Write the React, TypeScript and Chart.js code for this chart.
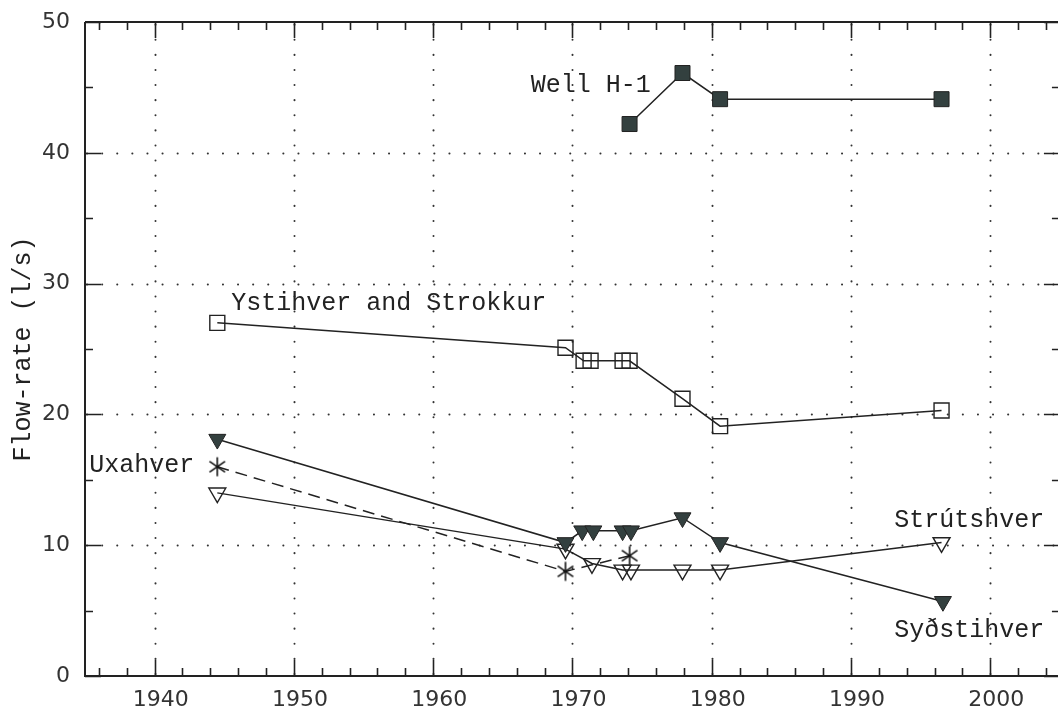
import React, { useEffect, useRef } from 'react';
import { Chart, registerables } from 'chart.js';

Chart.register(...registerables);

// ---- data ----
const wellYears = [1974.1, 1977.9, 1980.6, 1996.5];
const wellFlow = [42.2, 46.1, 44.1, 44.1];

const ystiYears = [1944.5, 1969.5, 1970.8, 1971.3, 1973.6, 1974.1, 1977.9, 1980.6, 1996.5];
const ystiFlow = [27.0, 25.1, 24.1, 24.1, 24.1, 24.1, 21.2, 19.1, 20.3];

const sydYears = [1944.5, 1969.5, 1970.7, 1971.5, 1973.6, 1974.2, 1977.9, 1980.6, 1996.6];
const sydFlow = [18.1, 10.2, 11.1, 11.1, 11.1, 11.1, 12.1, 10.2, 5.7];

const strutYears = [1944.5, 1969.5, 1971.4, 1973.6, 1974.2, 1977.9, 1980.6, 1996.5];
const strutFlow = [14.0, 9.7, 8.6, 8.1, 8.1, 8.1, 8.1, 10.2];

const uxaYears = [1944.5, 1969.5, 1974.1];
const uxaFlow = [16.0, 8.0, 9.2];

const xTickLabels = [1940, 1950, 1960, 1970, 1980, 1990, 2000];
const yTickLabels = [0, 10, 20, 30, 40, 50];
const xMinorStep = 2;
const yMinorStep = 5;

const seriesNames = ['Well H-1', 'Ystihver and Strokkur', 'Syðstihver', 'Strútshver', 'Uxahver'];
const yTitle = 'Flow-rate (l/s)';

// label anchors in data units (left edge, baseline)
const labelAnchors = [
  { text: 'Well H-1', x: 1967.0, y: 44.65 },
  { text: 'Ystihver and Strokkur', x: 1945.5, y: 27.95 },
  { text: 'Uxahver', x: 1935.3, y: 15.6 },
  { text: 'Strútshver', x: 1993.1, y: 11.4 },
  { text: 'Syðstihver', x: 1993.1, y: 3.0 },
];

const X_MIN = 1935;
const X_MAX = 2004.0;
const X_FRAME_RIGHT = 2005;

const INK = '#222222';
const FILL = '#33403f';
const LABEL_FONT = '"Liberation Mono", monospace';

const pts = (xs: number[], ys: number[]) => xs.map((x, i) => ({ x, y: ys[i] }));

function makeAsterisk(): HTMLCanvasElement {
  const c = document.createElement('canvas');
  c.width = 22;
  c.height = 22;
  const g = c.getContext('2d')!;
  g.strokeStyle = '#111';
  g.lineWidth = 1.6;
  const r = 9.5;
  for (const deg of [90, 35, 145]) {
    const a = (deg * Math.PI) / 180;
    g.beginPath();
    g.moveTo(11 - Math.cos(a) * r, 11 - Math.sin(a) * r);
    g.lineTo(11 + Math.cos(a) * r, 11 + Math.sin(a) * r);
    g.stroke();
  }
  return c;
}

const framePlugin = {
  id: 'frame',
  beforeDatasetsDraw(chart: any) {
    const { ctx, chartArea: a, scales } = chart;
    const xs = scales.x;
    const ys = scales.y;
    const xr = xs.getPixelForValue(X_FRAME_RIGHT);
    ctx.save();
    // dotted grid
    ctx.strokeStyle = '#333';
    ctx.lineWidth = 2;
    ctx.lineCap = 'round';
    ctx.setLineDash([0.1, 15]);
    for (const v of xTickLabels) {
      const px = Math.round(xs.getPixelForValue(v)) + 0.5;
      ctx.beginPath();
      ctx.moveTo(px, a.bottom - 2);
      ctx.lineTo(px, a.top);
      ctx.stroke();
    }
    for (const v of yTickLabels) {
      if (v <= 0 || v >= 50) continue;
      const py = Math.round(ys.getPixelForValue(v)) + 0.5;
      ctx.beginPath();
      ctx.moveTo(a.left + 2, py);
      ctx.lineTo(xr, py);
      ctx.stroke();
    }
    ctx.setLineDash([]);
    ctx.lineCap = 'butt';
    // frame
    ctx.strokeStyle = INK;
    ctx.lineWidth = 2;
    ctx.beginPath();
    ctx.moveTo(a.left, a.top);
    ctx.lineTo(a.left, a.bottom);
    ctx.lineTo(xr, a.bottom);
    ctx.moveTo(a.left, a.top);
    ctx.lineTo(xr, a.top);
    ctx.lineTo(xr, a.bottom);
    ctx.stroke();
    // ticks (inward)
    ctx.lineWidth = 1.6;
    ctx.beginPath();
    for (let v = X_MIN + 1; v <= X_FRAME_RIGHT; v += xMinorStep) {
      const major = xTickLabels.includes(v);
      const len = major ? 16 : 8;
      const px = Math.round(xs.getPixelForValue(v)) + 0.5;
      ctx.moveTo(px, a.bottom);
      ctx.lineTo(px, a.bottom - len);
      ctx.moveTo(px, a.top);
      ctx.lineTo(px, a.top + len);
    }
    for (let v = 0; v <= 50; v += yMinorStep) {
      const major = yTickLabels.includes(v);
      const len = major ? 16 : 8;
      const py = Math.round(ys.getPixelForValue(v)) + 0.5;
      ctx.moveTo(a.left, py);
      ctx.lineTo(a.left + len, py);
      ctx.moveTo(xr, py);
      ctx.lineTo(xr - len, py);
    }
    ctx.stroke();
    ctx.restore();
  },
  afterDraw(chart: any) {
    const { ctx, scales } = chart;
    ctx.save();
    ctx.fillStyle = INK;
    ctx.font = `25px ${LABEL_FONT}`;
    ctx.textAlign = 'left';
    ctx.textBaseline = 'alphabetic';
    for (const l of labelAnchors) {
      ctx.fillText(l.text, scales.x.getPixelForValue(l.x), scales.y.getPixelForValue(l.y));
    }
    ctx.restore();
  },
};

export default function App() {
  const ref = useRef<HTMLCanvasElement | null>(null);

  useEffect(() => {
    if (!ref.current) return;
    const asterisk = makeAsterisk();
    const lineBase = { showLine: true, borderColor: INK, borderWidth: 1.5, pointBorderColor: INK };
    const chart = new Chart(ref.current, {
      type: 'scatter',
      data: {
        datasets: [
          {
            ...lineBase,
            label: seriesNames[0],
            data: pts(wellYears, wellFlow),
            pointStyle: 'rect',
            pointRadius: 10.6,
            pointBackgroundColor: FILL,
            pointBorderWidth: 1,
          },
          {
            ...lineBase,
            label: seriesNames[1],
            data: pts(ystiYears, ystiFlow),
            pointStyle: 'rect',
            pointRadius: 10.6,
            pointBackgroundColor: 'rgba(0,0,0,0)',
            pointBorderWidth: 1.4,
          },
          {
            ...lineBase,
            label: seriesNames[2],
            data: pts(sydYears, sydFlow),
            pointStyle: 'triangle',
            pointRotation: 180,
            pointRadius: 9.8,
            pointBackgroundColor: FILL,
            pointBorderWidth: 1,
          },
          {
            ...lineBase,
            label: seriesNames[3],
            data: pts(strutYears, strutFlow),
            pointStyle: 'triangle',
            pointRotation: 180,
            pointRadius: 9.8,
            pointBackgroundColor: 'rgba(0,0,0,0)',
            pointBorderWidth: 1.4,
          },
          {
            ...lineBase,
            label: seriesNames[4],
            data: pts(uxaYears, uxaFlow),
            borderDash: [12, 7],
            pointStyle: asterisk as any,
            pointRadius: 10,
          },
        ],
      },
      options: {
        animation: false,
        responsive: false,
        devicePixelRatio: 1,
        events: [],
        layout: { padding: { top: 22, right: 0, left: 0, bottom: 0 } },
        plugins: { legend: { display: false }, tooltip: { enabled: false } },
        scales: {
          x: {
            type: 'linear',
            min: X_MIN,
            max: X_MAX,
            afterFit: (s: any) => {
              s.height = 30;
              s.paddingLeft = 0;
              s.paddingRight = 0;
            },
            afterBuildTicks: (s: any) => {
              s.ticks = xTickLabels.map((v) => ({ value: v }));
            },
            grid: { display: false },
            border: { display: false },
            ticks: {
              font: { family: '"DejaVu Sans", sans-serif', size: 22, lineHeight: 1 },
              color: '#333',
              padding: 5,
              labelOffset: 6,
              maxRotation: 0,
              autoSkip: false,
              callback: (v: any) => String(v),
            },
          },
          y: {
            type: 'linear',
            min: 0,
            max: 50,
            afterFit: (s: any) => {
              s.width = 85;
              s.paddingTop = 0;
              s.paddingBottom = 0;
            },
            afterBuildTicks: (s: any) => {
              s.ticks = yTickLabels.map((v) => ({ value: v }));
            },
            grid: { display: false },
            border: { display: false },
            ticks: {
              font: { family: '"DejaVu Sans", sans-serif', size: 22, lineHeight: 1 },
              color: '#333',
              padding: 7,
              callback: (v: any) => String(v),
            },
            title: {
              display: true,
              text: yTitle,
              color: INK,
              font: { family: LABEL_FONT, size: 25, lineHeight: 1.2 },
              padding: { top: 8, bottom: 0 },
            },
          },
        },
      },
      plugins: [framePlugin],
    } as any);
    return () => chart.destroy();
  }, []);

  return (
    <div style={{ position: 'absolute', left: 0, top: 0, width: 1058, height: 706, background: '#fff' }}>
      <canvas ref={ref} width={1058} height={706} style={{ display: 'block' }} />
    </div>
  );
}
